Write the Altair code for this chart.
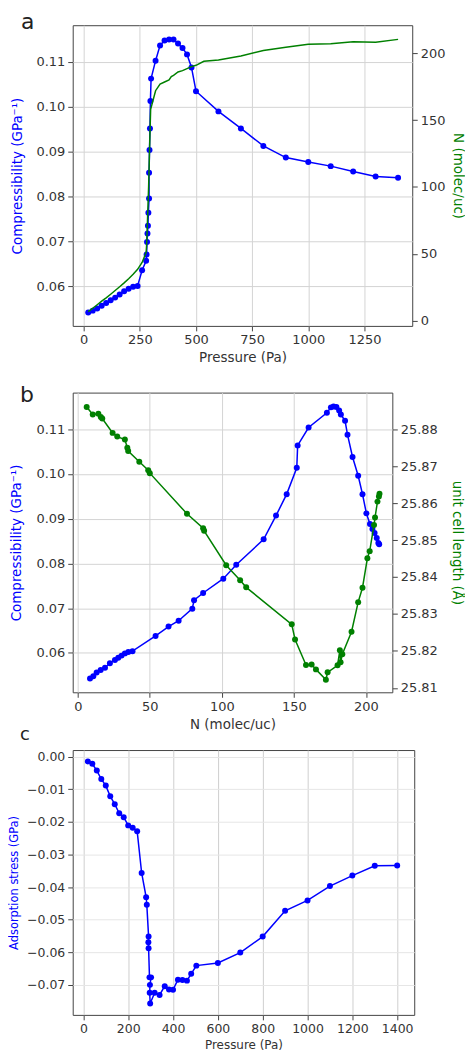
import altair as alt
import pandas as pd

# ---------------- data ----------------
# panel a : compressibility vs pressure (blue, markers)
a_pressure = [20, 40, 60, 80, 100, 120, 140, 160, 180, 200, 220, 240, 260,
              278, 280, 282, 284, 286, 288, 291, 291, 293, 295, 297, 300,
              320, 340, 360, 380, 400, 420, 440, 460, 480, 500,
              600, 700, 800, 900, 1000, 1100, 1200, 1300, 1400]
a_compress = [0.0542, 0.0546, 0.0551, 0.0557, 0.0563, 0.0569, 0.0575, 0.0582, 0.0589, 0.0595, 0.0599, 0.0601, 0.0636,
              0.0657, 0.0671, 0.0699, 0.0718, 0.0735, 0.0764, 0.0796, 0.0853, 0.0904, 0.0952, 0.1013, 0.1063,
              0.1103, 0.1137, 0.1148, 0.1150, 0.1150, 0.1141, 0.1131, 0.1117, 0.1088, 0.1035,
              0.0990, 0.0952, 0.0913, 0.0887, 0.0877, 0.0868, 0.0856, 0.0845, 0.0842]
# panel a : loading vs pressure (green line)
a_n_pressure = [20, 40, 60, 80, 100, 120, 140, 160, 180, 200, 220, 240, 260, 278,
                280, 283, 286, 289, 292, 295, 298, 320, 340, 360, 380, 390, 400, 420,
                440, 460, 480, 500, 535, 600, 700, 800, 900, 1000, 1100, 1200, 1300, 1400]
a_n_loading = [6.7, 9.2, 11.8, 14.5, 17.0, 19.7, 22.5, 25.3, 28.2, 31.3, 34.6, 38.3, 43.5, 51.0,
               56.0, 70.0, 85.0, 100.0, 120.0, 140.0, 158.0, 172.0, 177.0, 178.5, 180.0, 182.5, 183.5, 186.0,
               187.0, 188.5, 190.0, 191.0, 194.0, 195.0, 198.0, 202.0, 204.5, 206.7, 207.2, 208.6, 208.2, 210.4]

# panel b : compressibility vs loading (blue)
b_n_comp = [8.5, 10.8, 13.1, 15.9, 18.9, 22.3, 25.8, 28.1, 30.4, 32.7, 35.1, 38.0, 54.0,
            63.0, 70.0, 79.5, 80.7, 87.0, 101.0, 110.0, 129.0, 137.6, 145.0, 152.0, 152.6,
            160.2, 172.9, 175.7, 177.5, 179.5, 181.4, 182.6, 185.5, 187.2, 190.7,
            194.6, 197.6, 200.3, 202.8, 204.5, 206.0, 207.5, 208.6, 209.2]
b_comp = [0.0543, 0.0548, 0.0556, 0.0562, 0.0567, 0.0577, 0.0584, 0.0589, 0.0594, 0.0599, 0.0602, 0.0604, 0.0638,
          0.0659, 0.0672, 0.0699, 0.0718, 0.0734, 0.0766, 0.0797, 0.0854, 0.0907, 0.0955, 0.1014, 0.1064,
          0.1104, 0.1137, 0.1149, 0.1151, 0.1150, 0.1142, 0.1133, 0.1119, 0.1088, 0.1038,
          0.0996, 0.0955, 0.0912, 0.0888, 0.0877, 0.0868, 0.0857, 0.0846, 0.0843]
# panel b : unit cell length vs loading (green)
b_n_cell = [6.2, 10.4, 14.3, 16.0, 17.0, 24.2, 27.4, 32.7, 34.4, 35.0, 42.7, 48.9, 50.0, 75.8, 87.0,
            87.7, 103.0, 112.7, 116.9, 148.5, 150.8, 158.4, 162.3, 165.3, 172.2, 173.4, 180.3, 181.9,
            182.4, 183.6, 190.0, 194.6, 197.6, 201.0, 202.6, 205.6, 206.3, 208.0, 209.0, 209.4]
b_cell = [25.8860, 25.8840, 25.8842, 25.8833, 25.8829, 25.8790, 25.8780, 25.8772, 25.8750, 25.8741,
          25.8712, 25.8689, 25.8681, 25.8571, 25.8532, 25.8525, 25.8432, 25.8391, 25.8372, 25.8272,
          25.8231, 25.8162, 25.8163, 25.8150, 25.8122, 25.8142, 25.8161, 25.8202, 25.8169, 25.8191,
          25.8252, 25.8332, 25.8371, 25.8451, 25.8470, 25.8541, 25.8561, 25.8604, 25.8618, 25.8625]

# panel c : adsorption stress vs pressure
c_pressure = [20, 40, 60, 80, 100, 120, 140, 160, 180, 200, 220, 240, 260, 280, 283, 291, 290, 291,
              295, 302, 297, 296, 298, 318, 340, 363, 382, 400, 422, 442, 462, 481, 504,
              600, 700, 800, 900, 1000, 1100, 1200, 1300, 1400]
c_stress = [-0.0015, -0.0022, -0.0043, -0.0069, -0.0089, -0.0122, -0.0146, -0.0174, -0.0186, -0.0211,
            -0.0218, -0.0229, -0.0357, -0.0431, -0.0454, -0.0552, -0.0569, -0.0588, -0.0677, -0.0677,
            -0.0700, -0.0724, -0.0757, -0.0724, -0.0731, -0.0704, -0.0714, -0.0715, -0.0684, -0.0685,
            -0.0687, -0.0666, -0.0641, -0.0633, -0.0601, -0.0552, -0.0473, -0.0441, -0.0397, -0.0365,
            -0.0335, -0.0334]

# axis ticks
a_xticks = [0, 250, 500, 750, 1000, 1250]
k_ticks = [0.06, 0.07, 0.08, 0.09, 0.10, 0.11]
n_ticks = [0, 50, 100, 150, 200]
b_xticks = [0, 50, 100, 150, 200]
cell_ticks = [25.81, 25.82, 25.83, 25.84, 25.85, 25.86, 25.87, 25.88]
c_xticks = [0, 200, 400, 600, 800, 1000, 1200, 1400]
s_ticks = [0.0, -0.01, -0.02, -0.03, -0.04, -0.05, -0.06, -0.07]

# ---------------- style ----------------
FONT = "DejaVu Sans"
BLUE = "#0000ff"
GREEN = "#008000"
TXT = "#333333"
K_DOMAIN = [0.0512, 0.1182]


def frame(d):
    d = dict(d)
    d["i"] = list(range(len(next(iter(d.values())))))
    return pd.DataFrame(d)


df_a = frame({"P": a_pressure, "K": a_compress})
df_an = frame({"P": a_n_pressure, "N": a_n_loading})
df_b = frame({"N": b_n_comp, "K": b_comp})
df_bc = frame({"N": b_n_cell, "L": b_cell})
df_c = frame({"P": c_pressure, "S": c_stress})

pt_blue = alt.OverlayMarkDef(filled=True, color=BLUE, size=36, opacity=1)
pt_green = alt.OverlayMarkDef(filled=True, color=GREEN, size=36, opacity=1)

letter = dict(anchor="start", frame="group", font=FONT,
              fontWeight="normal", color="#222222", baseline="alphabetic")

# ---- panel a ----
xa = alt.Scale(domain=[-49, 1463], nice=False, zero=False)
a_blue = alt.Chart(df_a).mark_line(color=BLUE, strokeWidth=1.5, point=pt_blue).encode(
    x=alt.X("P:Q", scale=xa, axis=alt.Axis(values=a_xticks, format="d", title="Pressure (Pa)",
                                           grid=True, titlePadding=4)),
    y=alt.Y("K:Q", scale=alt.Scale(domain=K_DOMAIN, nice=False, zero=False),
            axis=alt.Axis(orient="left", values=k_ticks, format=".2f", grid=True,
                          title="Compressibility (GPa⁻¹)", titleColor=BLUE,
                          minExtent=40, maxExtent=40, titlePadding=8)),
    order="i:Q",
)
a_green = alt.Chart(df_an).mark_line(color=GREEN, strokeWidth=1.5).encode(
    x=alt.X("P:Q", scale=xa),
    y=alt.Y("N:Q", scale=alt.Scale(domain=[-4, 221], nice=False, zero=False),
            axis=alt.Axis(orient="right", values=n_ticks, format="d", grid=False,
                          title="N (molec/uc)", titleColor=GREEN,
                          minExtent=36, maxExtent=36, titlePadding=2)),
    order="i:Q",
)
panel_a = alt.layer(a_blue, a_green).resolve_scale(y="independent").properties(
    width=341, height=302,
    title=alt.TitleParams(text="a", dx=-52, fontSize=22, offset=-26, **letter))

# ---- panel b ----
xb = alt.Scale(domain=[-3.5, 218.3], nice=False, zero=False)
b_blue = alt.Chart(df_b).mark_line(color=BLUE, strokeWidth=1.5, point=pt_blue).encode(
    x=alt.X("N:Q", scale=xb, axis=alt.Axis(values=b_xticks, format="d", title="N (molec/uc)",
                                           grid=True, titlePadding=4)),
    y=alt.Y("K:Q", scale=alt.Scale(domain=K_DOMAIN, nice=False, zero=False),
            axis=alt.Axis(orient="left", values=k_ticks, format=".2f", grid=True,
                          title="Compressibility (GPa⁻¹)", titleColor=BLUE,
                          minExtent=41, maxExtent=41, titlePadding=8)),
    order="i:Q",
)
b_green = alt.Chart(df_bc).mark_line(color=GREEN, strokeWidth=1.5, point=pt_green).encode(
    x=alt.X("N:Q", scale=xb),
    y=alt.Y("L:Q", scale=alt.Scale(domain=[25.8088, 25.8899], nice=False, zero=False),
            axis=alt.Axis(orient="right", values=cell_ticks, format=".2f", grid=False,
                          title="unit cell length (Å)", titleColor=GREEN,
                          minExtent=55, maxExtent=55, titlePadding=2)),
    order="i:Q",
)
panel_b = alt.layer(b_blue, b_green).resolve_scale(y="independent").properties(
    width=321, height=301,
    title=alt.TitleParams(text="b", dx=-53, fontSize=22, offset=-31, **letter))

# ---- panel c ----
c_line = alt.Chart(df_c).mark_line(color=BLUE, strokeWidth=1.5, point=pt_blue).encode(
    x=alt.X("P:Q", scale=alt.Scale(domain=[-47.5, 1476], nice=False, zero=False),
            axis=alt.Axis(values=c_xticks, format="d", title="Pressure (Pa)", grid=True,
                          gridColor="#cfcfcf", labelFontSize=12.5, titleFontSize=12, titlePadding=4)),
    y=alt.Y("S:Q", scale=alt.Scale(domain=[-0.0792, 0.002], nice=False, zero=False),
            axis=alt.Axis(values=s_ticks, format=".2f", grid=True, gridColor="#e6e6e6",
                          title="Adsorption stress (GPa)", titleColor=BLUE,
                          labelFontSize=12.5, titleFontSize=11.5,
                          minExtent=46, maxExtent=46, titlePadding=7)),
    order="i:Q",
)
panel_c = c_line.properties(
    width=343, height=266,
    title=alt.TitleParams(text="c", dx=-53, fontSize=18, offset=-8, **letter))

chart = alt.vconcat(
    panel_a,
    alt.vconcat(panel_b, panel_c, spacing=-6),
    spacing=18,
).properties(
    padding={"left": 0, "top": 0, "right": 0, "bottom": 0}
).configure_axis(
    labelFont=FONT, titleFont=FONT, labelFontSize=13, titleFontSize=13.5,
    labelColor=TXT, titleColor=TXT, titleFontWeight="normal",
    tickColor="#444444", tickSize=5, tickWidth=1, labelPadding=3,
    domain=False, gridColor="#d4d4d4", gridWidth=1,
).configure_view(stroke="#444444", strokeWidth=1)

chart.save("out.html", embed_options={"renderer": "svg", "actions": False})
